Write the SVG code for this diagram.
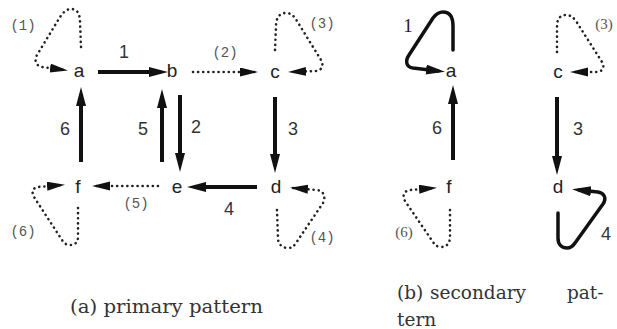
<svg xmlns="http://www.w3.org/2000/svg" width="617" height="329" viewBox="0 0 617 329">
<style>
.node{font-family:"Liberation Sans",Arial,sans-serif;font-size:19px;fill:#222;text-anchor:middle}
.num{font-family:"Liberation Sans",Arial,sans-serif;font-size:18px;fill:#333;text-anchor:middle}
.plab{font-family:"Liberation Mono","Courier New",monospace;font-size:14px;fill:#555;text-anchor:middle}
.slab{font-family:"Liberation Serif","Times New Roman",serif;font-size:15px;fill:#555;text-anchor:middle}
.snum{font-family:"Liberation Serif","Times New Roman",serif;font-size:19px;fill:#222;text-anchor:middle}
.cap{font-family:"DejaVu Serif","Liberation Serif",serif;font-size:18.5px;fill:#333}
.solid{fill:none;stroke:#111;stroke-width:4;marker-end:url(#ah)}
.loop{fill:none;stroke:#111;stroke-width:3.5;stroke-linejoin:round;stroke-linecap:round;marker-end:url(#ah)}
.dot{fill:none;stroke:#222;stroke-width:2.6;stroke-linecap:round;stroke-dasharray:0.1 5;marker-end:url(#dh)}
</style>
<defs>
<marker id="ah" markerUnits="userSpaceOnUse" markerWidth="20" markerHeight="12" refX="12" refY="5" orient="auto">
<path d="M0,0 L19,5 L0,10 z" fill="#111"/>
</marker>
<marker id="dh" markerUnits="userSpaceOnUse" markerWidth="20" markerHeight="10" refX="15" refY="4.5" orient="auto">
<path d="M0,0 L18,4.5 L0,9 z" fill="#111"/>
</marker>
</defs>
<g id="connectors">
<line class="solid" x1="98" y1="72" x2="161" y2="72"/>
<text class="num" x="124" y="58">1</text>
<line class="dot" x1="193" y1="72" x2="255" y2="72"/>
<text class="plab" x="225" y="57">(2)</text>
<line class="solid" x1="275" y1="97" x2="275" y2="166"/>
<text class="num" x="293" y="135">3</text>
<line class="solid" x1="257" y1="187" x2="194" y2="187"/>
<text class="num" x="229" y="215">4</text>
<line class="dot" x1="158" y1="186" x2="95" y2="186"/>
<text class="plab" x="136" y="208">(5)</text>
<line class="solid" x1="81" y1="162" x2="81" y2="94"/>
<text class="num" x="65" y="135">6</text>
<line class="solid" x1="162" y1="162" x2="162" y2="96"/>
<text class="num" x="143" y="135">5</text>
<line class="solid" x1="180" y1="95" x2="180" y2="165"/>
<text class="num" x="196" y="133">2</text>
<path class="dot" d="M81,47 L80,22 C80,12 76,9 71,9 C66,9 63,13 60,17 L37,55 C34,60 36,66 42,67 L65,70"/>
<text class="plab" x="23" y="30">(1)</text>
<path class="dot" d="M275,50 L276,26 C276,17 280,13 286,13 C291,13 294,16 297,21 L321,60 C324,66 322,70 316,71 L291,72"/>
<text class="plab" x="322" y="28">(3)</text>
<path class="dot" d="M277,210 L278,238 C278,245 283,248 288,248 C292,248 294,246 296,243 L323,203 C326,197 324,191 317,190 L293,188"/>
<text class="plab" x="322" y="242">(4)</text>
<path class="dot" d="M78,208 L78,237 C78,243 74,245 70,245 C66,245 64,243 62,240 L34,197 C31,191 33,188 38,187 L62,185"/>
<text class="plab" x="23" y="236">(6)</text>
<path class="loop" d="M453,50 L453,26 C453,16 449,12 443,12 C439,12 436,14 433,18 L409,55 C405,61 406,67 413,68 L438,71"/>
<text class="snum" x="408" y="32">1</text>
<path class="dot" d="M557,52 L557,26 C557,18 561,15 566,15 C570,15 573,17 576,21 L602,62 C605,68 603,71 597,72 L573,72"/>
<text class="slab" x="604" y="29">(3)</text>
<line class="solid" x1="453" y1="160" x2="453" y2="92"/>
<text class="num" x="437" y="134">6</text>
<line class="solid" x1="557" y1="97" x2="557" y2="168"/>
<text class="num" x="578" y="135">3</text>
<path class="dot" d="M450,210 L450,237 C450,244 446,247 441,247 C437,247 435,245 433,242 L405,201 C402,195 404,191 410,190 L434,188"/>
<text class="slab" x="404" y="237">(6)</text>
<path class="loop" d="M558,213 L558,238 C558,245 562,248 567,248 C571,248 573,246 575,243 L603,204 C607,198 604,193 598,192 L579,190"/>
<text class="num" x="606" y="240">4</text>
</g>
<g id="node-a"><text class="node" x="79" y="77">a</text></g>
<g id="node-b"><text class="node" x="172" y="77">b</text></g>
<g id="node-c"><text class="node" x="275" y="78">c</text></g>
<g id="node-d"><text class="node" x="276" y="193">d</text></g>
<g id="node-e"><text class="node" x="177" y="193">e</text></g>
<g id="node-f"><text class="node" x="78" y="193">f</text></g>
<g id="node-a2"><text class="node" x="451" y="77">a</text></g>
<g id="node-c2"><text class="node" x="558" y="78">c</text></g>
<g id="node-f2"><text class="node" x="449" y="193">f</text></g>
<g id="node-d2"><text class="node" x="558" y="193">d</text></g>
<g id="captions">
<text class="cap" x="70" y="313" textLength="193" lengthAdjust="spacingAndGlyphs">(a) primary pattern</text>
<text class="cap" x="397" y="299">(b)</text>
<text class="cap" x="430" y="299">secondary</text>
<text class="cap" x="567" y="299">pat-</text>
<text class="cap" x="397" y="326">tern</text>
</g>
</svg>
